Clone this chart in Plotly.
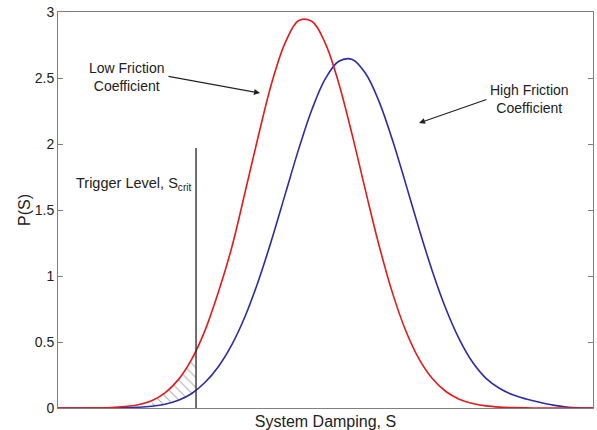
import plotly.graph_objects as go

# System damping S (arbitrary units, axis has no tick labels)
s_values = [0.0, 0.25, 0.5, 0.75, 1.0, 1.25, 1.5, 1.75, 2.0, 2.25, 2.5, 2.75, 3.0, 3.25, 3.5,
            3.75, 4.0, 4.25, 4.5, 4.75, 5.0, 5.25, 5.5, 5.75, 6.0, 6.25, 6.5, 6.75, 7.0, 7.25,
            7.5, 7.75, 8.0, 8.25, 8.5, 8.75, 9.0, 9.25, 9.5, 9.75, 10.0]

# P(S) - low friction coefficient (red)
p_low = [0.0, 0.0, 0.0005, 0.0015, 0.004, 0.011, 0.025, 0.055, 0.115, 0.215, 0.37, 0.59, 0.88,
         1.22, 1.64, 2.07, 2.47, 2.77, 2.935, 2.928, 2.759, 2.457, 2.067, 1.643, 1.233, 0.874,
         0.585, 0.37, 0.221, 0.125, 0.067, 0.034, 0.016, 0.007, 0.003, 0.001, 0.0, 0.0, 0.0,
         0.0, 0.0]

# P(S) - high friction coefficient (blue)
p_high = [0.0, 0.0, 0.0003, 0.0006, 0.001, 0.0025, 0.006, 0.013, 0.028, 0.058, 0.11, 0.195,
          0.315, 0.48, 0.697, 0.968, 1.283, 1.624, 1.963, 2.265, 2.497, 2.627, 2.641, 2.534,
          2.323, 2.032, 1.698, 1.355, 1.033, 0.752, 0.522, 0.346, 0.225, 0.15, 0.10, 0.068,
          0.043, 0.022, 0.008, 0.002, 0.0]

trigger_level = 2.58        # S_crit
trigger_top = 1.97          # height of trigger marker line
p_low_at_trigger = 0.43     # curve values read at S_crit
p_high_at_trigger = 0.138
hatch_start = 1.75

y_ticks = [0, 0.5, 1, 1.5, 2, 2.5, 3]
y_tick_text = ["0", "0.5", "1", "1.5", "2", "2.5", "3"]

RED = "#e31a1c"
BLUE = "#2c2ca6"
TXT = "#222222"
FONT = "Arial, Liberation Sans, Helvetica, sans-serif"

fig = go.Figure()

# hatched region between the curves, left of the trigger level
hx = [s for s in s_values if hatch_start <= s < trigger_level] + [trigger_level]
h_low = [p for s, p in zip(s_values, p_low) if hatch_start <= s < trigger_level] + [p_low_at_trigger]
h_high = [p for s, p in zip(s_values, p_high) if hatch_start <= s < trigger_level] + [p_high_at_trigger]

fig.add_trace(go.Scatter(x=hx, y=h_high, mode="lines", line=dict(width=0, shape="spline"),
                         hoverinfo="skip", showlegend=False))
fig.add_trace(go.Scatter(x=hx, y=h_low, mode="lines", line=dict(width=0, shape="spline"),
                         fill="tonexty", fillcolor="rgba(255,255,255,0)",
                         fillpattern=dict(shape="\\", fgcolor="#5e5e5e", bgcolor="rgba(255,255,255,0)",
                                          size=7, solidity=0.15),
                         hoverinfo="skip", showlegend=False))

fig.add_trace(go.Scatter(x=s_values, y=p_high, mode="lines",
                         line=dict(color=BLUE, width=1.6, shape="spline", smoothing=1),
                         name="High Friction Coefficient", showlegend=False))
fig.add_trace(go.Scatter(x=s_values, y=p_low, mode="lines",
                         line=dict(color=RED, width=1.6, shape="spline", smoothing=1),
                         name="Low Friction Coefficient", showlegend=False))

fig.add_trace(go.Scatter(x=[trigger_level, trigger_level], y=[0, trigger_top], mode="lines",
                         line=dict(color="#222222", width=1.3), showlegend=False, hoverinfo="skip"))

annotations = [
    dict(x=1.271, y=2.511, text="Low Friction<br>Coefficient", showarrow=False,
         xanchor="center", yanchor="middle", font=dict(size=14, color=TXT, family=FONT)),
    dict(x=3.776, y=2.386, ax=2.037, ay=2.515, axref="x", ayref="y", text="",
         showarrow=True, arrowhead=2, arrowsize=1, arrowwidth=1.2, arrowcolor=TXT),
    dict(x=8.804, y=2.341, text="High Friction<br>Coefficient", showarrow=False,
         xanchor="center", yanchor="middle", font=dict(size=14, color=TXT, family=FONT)),
    dict(x=6.748, y=2.159, ax=8.037, ay=2.341, axref="x", ayref="y", text="",
         showarrow=True, arrowhead=2, arrowsize=1, arrowwidth=1.2, arrowcolor=TXT),
    dict(x=2.523, y=1.70, text="Trigger Level, S<sub>crit</sub>", showarrow=False,
         xanchor="right", yanchor="middle", font=dict(size=14.5, color=TXT, family=FONT)),
]

fig.update_layout(
    width=597, height=430,
    margin=dict(l=58, r=4, t=12, b=22),
    paper_bgcolor="white", plot_bgcolor="white",
    font=dict(family=FONT, color=TXT),
    annotations=annotations,
    showlegend=False,
)
fig.update_xaxes(range=[0, 10], showticklabels=False, ticks="", showgrid=False, zeroline=False,
                 showline=True, linecolor="#808080", linewidth=1, mirror=True,
                 title=dict(text="System Damping, S", font=dict(size=16, family=FONT, color=TXT),
                            standoff=9),
                 automargin=False)
fig.update_yaxes(range=[0, 3], tickvals=y_ticks, ticktext=y_tick_text, ticks="inside", ticklen=5,
                 tickcolor="#808080", showgrid=False, zeroline=False,
                 showline=True, linecolor="#808080", linewidth=1, mirror="ticks",
                 tickfont=dict(size=14, family=FONT, color=TXT),
                 title=dict(text="P(S)", font=dict(size=16, family=FONT, color=TXT), standoff=0),
                 automargin=False)

# remove the default page margin so the figure sits at the window's top-left corner
fig.write_html("out.html", config={"displayModeBar": False},
               post_script="document.body.style.margin='0px';document.body.style.padding='0px';")
